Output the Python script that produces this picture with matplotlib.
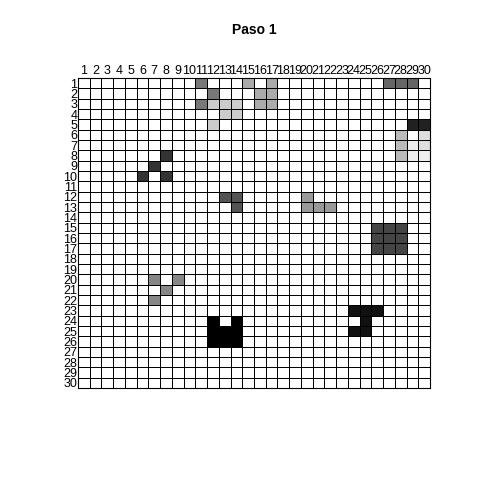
import numpy as np
import matplotlib
matplotlib.use("Agg")
import matplotlib.pyplot as plt

plt.rcParams['font.family'] = ['Liberation Sans', 'DejaVu Sans']

n = 30
labels = [str(i) for i in range(1, n + 1)]

# coloured cells: (row, col, grey level 0=black 1=white)
rows = [1, 2, 3,
        3, 3, 3, 4, 4, 5,
        1, 1, 2, 2, 3, 3,
        1, 1, 1,
        5, 5,
        6, 7, 8, 6, 7, 7, 8, 8,
        8, 9, 10, 10,
        12, 12, 13,
        12, 13, 13, 13,
        15, 15, 15, 16, 16, 16, 17, 17, 17,
        20, 20, 21, 22,
        24, 24, 25, 25, 25, 26, 26, 26,
        23, 23, 23, 24, 25, 25]
cols = [11, 12, 11,
        12, 13, 14, 13, 14, 12,
        15, 17, 16, 17, 16, 17,
        27, 28, 29,
        29, 30,
        28, 28, 28, 30, 30, 29, 29, 30,
        8, 7, 6, 8,
        13, 14, 14,
        20, 20, 21, 22,
        26, 27, 28, 26, 27, 28, 26, 27, 28,
        7, 9, 8, 7,
        12, 14, 12, 13, 14, 12, 13, 14,
        24, 25, 26, 25, 24, 25]
greys = [0.47, 0.47, 0.47,
         0.80, 0.80, 0.80, 0.80, 0.80, 0.80,
         0.67, 0.67, 0.67, 0.67, 0.67, 0.67,
         0.40, 0.40, 0.40,
         0.13, 0.13,
         0.73, 0.73, 0.73, 0.87, 0.87, 0.93, 0.93, 0.93,
         0.20, 0.20, 0.20, 0.20,
         0.33, 0.33, 0.33,
         0.60, 0.60, 0.60, 0.60,
         0.27, 0.27, 0.27, 0.27, 0.27, 0.27, 0.27, 0.27, 0.27,
         0.53, 0.53, 0.53, 0.53,
         0.0, 0.0, 0.0, 0.0, 0.0, 0.0, 0.0, 0.0,
         0.07, 0.07, 0.07, 0.07, 0.07, 0.07]

grid = np.ones((n, n))
for r, c, g in zip(rows, cols, greys):
    grid[r - 1, c - 1] = g

fig = plt.figure(figsize=(4.8, 4.8), dpi=100)
ax = fig.add_axes([0.1625, 0.1917, 0.7333, 0.6458])
ax.pcolormesh(np.arange(0.5, n + 1), np.arange(0.5, n + 1), grid,
              cmap='gray', vmin=0, vmax=1, edgecolors='black', linewidth=0.6)
ax.set_xlim(0.5, n + 0.5)
ax.set_ylim(n + 0.5, 0.5)
ax.set_xticks(range(1, n + 1))
ax.set_xticklabels(labels, fontsize=9)
ax.set_yticks(range(1, n + 1))
ax.set_yticklabels(labels, fontsize=9)
ax.xaxis.tick_top()
ax.tick_params(length=0, pad=0.5)
for s in ax.spines.values():
    s.set_linewidth(0.8)

fig.text(0.53, 0.9375, "Paso 1", ha='center', va='center', fontsize=10, fontweight='bold')
fig.savefig("out.png", dpi=100)
